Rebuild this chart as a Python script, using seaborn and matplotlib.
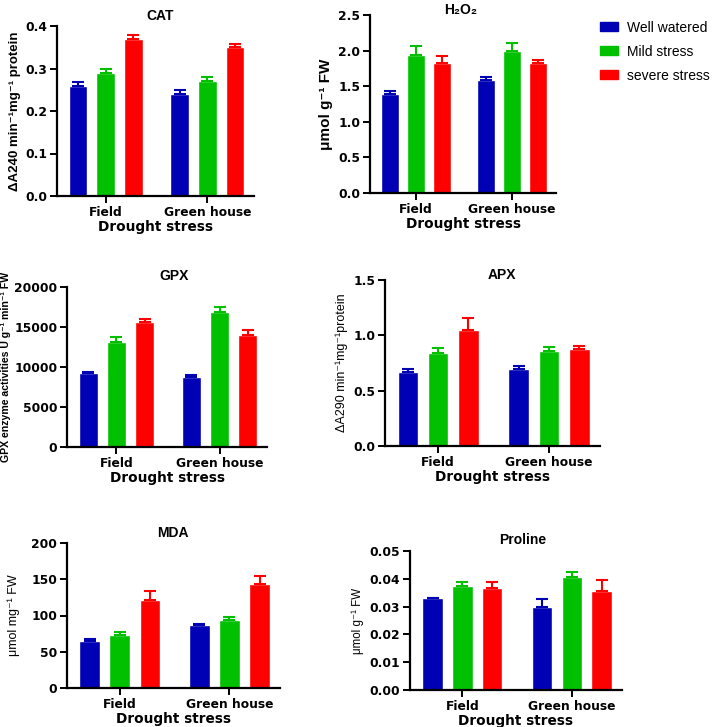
import pandas as pd
import matplotlib.pyplot as plt
import seaborn as sns
from matplotlib.patches import Patch

# Data (mean, SD) for Field / Green house
sites = ["Field", "Green house"]
treatments = ["Well watered", "Mild stress", "severe stress"]
colors = ["#0000B4", "#00C000", "#FF0000"]

cat_mean = [[0.26, 0.29, 0.37], [0.24, 0.27, 0.35]]
cat_sd = [[0.008, 0.009, 0.008], [0.009, 0.009, 0.008]]

h2o2_mean = [[1.39, 1.94, 1.82], [1.59, 2.00, 1.83]]
h2o2_sd = [[0.04, 0.12, 0.10], [0.04, 0.11, 0.04]]

gpx_mean = [[9210, 13100, 15600], [8710, 16900, 14000]]
gpx_sd = [[200, 630, 420], [290, 650, 600]]

apx_mean = [[0.666, 0.840, 1.050], [0.693, 0.855, 0.873]]
apx_sd = [[0.030, 0.050, 0.105], [0.030, 0.042, 0.033]]

mda_mean = [[65, 73, 121], [87, 94, 143]]
mda_sd = [[2.2, 3.8, 12.5], [1.6, 4.6, 11.5]]

pro_mean = [[0.0330, 0.0374, 0.0366], [0.0297, 0.0408, 0.0355]]
pro_sd = [[0.0001, 0.0013, 0.0021], [0.0030, 0.0018, 0.0041]]

panels = [
    # title, ylabel, means, sds, ymax, yticks, fmt,
    # axes box in px (left, right, top, bottom), title centre px, ylabel size/weight/pad
    ("CAT", "ΔA240 min⁻¹mg⁻¹ protein", cat_mean, cat_sd, 0.4,
     [0.0, 0.1, 0.2, 0.3, 0.4], "{:.1f}", (57, 254, 26, 196), (160, 16), 9.5, "bold", 3),
    ("H₂O₂", "μmol g⁻¹ FW", h2o2_mean, h2o2_sd, 2.5,
     [0.0, 0.5, 1.0, 1.5, 2.0, 2.5], "{:.1f}", (370, 556, 15, 193), (461, 10), 11, "bold", 4),
    ("GPX", "GPX enzyme activities U g⁻¹ min⁻¹ FW", gpx_mean, gpx_sd, 20000,
     [0, 5000, 10000, 15000, 20000], "{:.0f}", (67, 267, 287, 447), (174, 276), 7.6, "bold", 2),
    ("APX", "ΔA290 min⁻¹mg⁻¹protein", apx_mean, apx_sd, 1.5,
     [0.0, 0.5, 1.0, 1.5], "{:.1f}", (385, 600, 280, 446), (502, 275), 9, "normal", 4),
    ("MDA", "μmol mg⁻¹ FW", mda_mean, mda_sd, 200,
     [0, 50, 100, 150, 200], "{:.0f}", (67, 280, 543, 688), (173, 533), 9, "normal", 8),
    ("Proline", "μmol g⁻¹ FW", pro_mean, pro_sd, 0.05,
     [0.0, 0.01, 0.02, 0.03, 0.04, 0.05], "{:.2f}", (410, 622, 551, 690), (523, 540), 8.3, "normal", 4),
]

sns.set_style("ticks")
plt.rcParams['font.family'] = ['Liberation Sans', 'DejaVu Sans']
plt.rcParams['text.color'] = 'black'
plt.rcParams['axes.labelcolor'] = 'black'
bold_font = ['DejaVu Sans']

W, H = 714, 727
fig = plt.figure(figsize=(W / 100, H / 100), dpi=100)

for (title, ylabel, means, sds, ymax, yticks, fmt, (l, r, t, b), (tx, ty),
     lsize, lweight, lpad) in panels:
    rows = []
    for i, site in enumerate(sites):
        for j, trt in enumerate(treatments):
            rows.append({"site": site, "treatment": trt,
                         "value": means[i][j], "sd": sds[i][j]})
    df = pd.DataFrame(rows)

    ax = fig.add_axes([l / W, 1 - b / H, (r - l) / W, (b - t) / H])
    sns.barplot(data=df, x="site", y="value", hue="treatment", order=sites,
                hue_order=treatments, palette=colors, errorbar=None,
                width=0.82, gap=0.32, saturation=1, legend=False, ax=ax)

    # upward-only error bars, same colour as the bar
    for container, trt, col in zip(ax.containers, treatments, colors):
        for bar, site in zip(container, sites):
            sd = df[(df.site == site) & (df.treatment == trt)]["sd"].iloc[0]
            ax.errorbar(bar.get_x() + bar.get_width() / 2, bar.get_height(),
                        yerr=[[0], [sd]], color=col, capsize=4,
                        capthick=1.5, elinewidth=1.5, zorder=1)

    ax.set_xlim(-0.48, 1.46)
    ax.set_ylim(0, ymax)
    ax.set_yticks(yticks)
    ax.set_yticklabels([fmt.format(v) for v in yticks])
    sns.despine(ax=ax)
    for s in ["left", "bottom"]:
        ax.spines[s].set_linewidth(1.6)
        ax.spines[s].set_color("black")
    ax.tick_params(axis="both", width=1.4, length=5, colors="black", pad=2)
    for lab in ax.get_xticklabels() + ax.get_yticklabels():
        lab.set_fontweight("bold")
        lab.set_fontsize(8.8)
        lab.set_family(bold_font)
    fig.text(tx / W, 1 - ty / H, title, ha="center", va="center",
             fontsize=10, fontweight="bold")
    ax.set_xlabel("Drought stress", fontsize=9.8, fontweight="bold",
                  family=bold_font, labelpad=1)
    ax.set_ylabel(ylabel, fontsize=lsize, fontweight=lweight, labelpad=lpad)

handles = [Patch(facecolor=c, edgecolor=c) for c in colors]
fig.legend(handles, treatments, loc="upper left",
           bbox_to_anchor=(587 / W, 1 - 8 / H), frameon=False, fontsize=10,
           handlelength=1.3, handleheight=0.6, handletextpad=0.7,
           labelspacing=0.72)

fig.savefig("out.png", dpi=100)
